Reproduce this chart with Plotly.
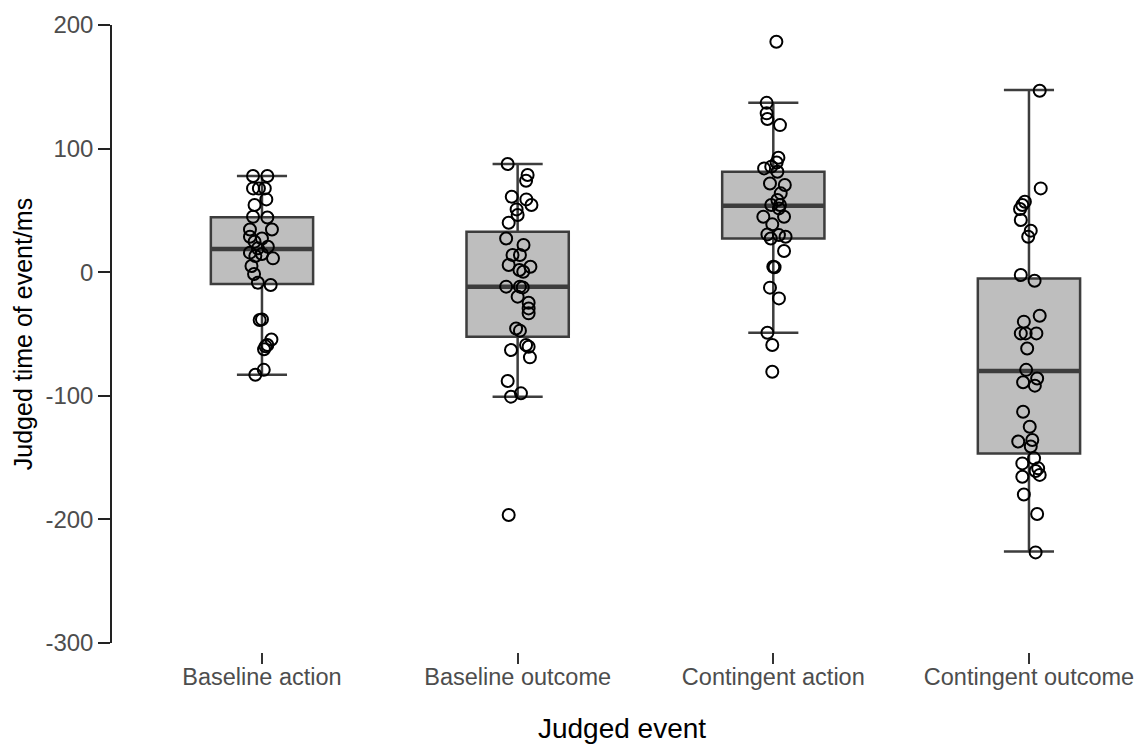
import plotly.graph_objects as go

categories = ["Baseline action", "Baseline outcome", "Contingent action", "Contingent outcome"]
y_ticks = [-300, -200, -100, 0, 100, 200]
y_tick_labels = ["-300", "-200", "-100", "0", "100", "200"]

# box statistics
q1 = [-9.6, -52.2, 27.3, -146.6]
median = [18.8, -11.7, 53.8, -80.0]
q3 = [44.4, 32.8, 81.3, -5.0]
lower = [-83.0, -100.7, -49.0, -226.0]
upper = [77.8, 87.5, 137.0, 147.4]

# individual observations (ms) and their horizontal jitter (category units)
ba_vals = [77.8, 77.8, 67.8, 67.8, 67.8, 58.9, 54.4, 44.9, 44.3, 34.6, 34.6, 28.7, 27.3, 24.7, 20.6, 19.3,
           15.8, 14.7, 11.2, 13.1, 5.0, -1.5, -8.5, -10.4, -38.7, -38.2, -54.4, -58.9, -62.4, -60.0, -83.0, -79.0]
ba_jit = [-0.035, 0.021, -0.035, -0.012, 0.011, 0.017, -0.029, -0.035, 0.021, 0.039, -0.047, -0.047, 0.0, -0.029, 0.023, -0.016,
          -0.047, 0.0, 0.043, -0.026, -0.041, -0.031, -0.016, 0.034, -0.009, 0.0, 0.037, 0.021, 0.008, 0.014, -0.026, 0.007]

bo_vals = [87.5, 78.6, 74.0, 61.1, 58.9, 54.4, 50.8, 46.3, 40.0, 27.3, 22.0, 13.9, 13.9, 5.8, 1.8, 4.4, 0.4,
           -11.7, -11.7, -12.3, -19.8, -24.7, -29.3, -33.3, -45.5, -47.3, -58.9, -60.3, -63.0, -68.9, -88.0,
           -100.7, -98.0, -196.4]
bo_jit = [-0.039, 0.039, 0.033, -0.023, 0.034, 0.054, -0.004, 0.0, -0.035, -0.045, 0.023, -0.020, 0.009, -0.035, 0.007, 0.050, 0.022,
          -0.045, 0.009, 0.020, 0.0, 0.043, 0.043, 0.043, -0.006, 0.009, 0.033, 0.043, -0.026, 0.048, -0.039,
          -0.026, 0.013, -0.035]

ca_vals = [186.5, 137.0, 128.5, 124.0, 119.0, 92.6, 88.8, 85.4, 84.0, 81.3, 71.8, 70.5, 63.8, 58.4, 54.4, 54.4,
           51.6, 44.9, 44.9, 38.7, 30.6, 27.3, 30.0, 28.7, 17.2, 4.4, 4.0, -12.5, -21.2, -49.0, -58.9, -80.5]
ca_jit = [0.012, -0.026, -0.026, -0.023, 0.026, 0.020, 0.013, -0.008, -0.036, 0.016, -0.013, 0.045, 0.029, 0.016, -0.008, 0.026,
          0.022, 0.042, -0.039, -0.004, -0.023, -0.010, 0.022, 0.048, 0.042, 0.0, 0.005, -0.013, 0.022, -0.023, -0.004, -0.004]

co_vals = [146.8, 67.8, 57.0, 54.4, 51.1, 42.2, 33.6, 28.7, -2.3, -6.9, -35.2, -40.0, -49.5, -49.5, -49.5, -61.7,
           -79.0, -89.0, -86.0, -91.8, -112.9, -125.0, -137.0, -135.8, -141.0, -150.6, -154.7, -158.7, -160.8,
           -164.0, -165.5, -179.8, -195.6, -226.7]
co_jit = [0.042, 0.046, -0.016, -0.026, -0.035, -0.032, 0.007, -0.003, -0.032, 0.022, 0.042, -0.020, -0.032, -0.013, 0.029, -0.007,
          -0.011, -0.023, 0.032, 0.023, -0.023, 0.003, -0.042, 0.013, 0.007, 0.020, -0.026, 0.036, 0.026,
          0.042, -0.026, -0.020, 0.032, 0.026]

points = [(ba_vals, ba_jit), (bo_vals, bo_jit), (ca_vals, ca_jit), (co_vals, co_jit)]

BOX_LINE = "#3d3d3d"
FILL = "#bebebe"

fig = go.Figure()
for i in range(len(categories)):
    fig.add_trace(go.Box(
        x=[i], q1=[q1[i]], median=[median[i]], q3=[q3[i]],
        lowerfence=[lower[i]], upperfence=[upper[i]],
        width=0.4, whiskerwidth=0.49, fillcolor=FILL,
        line=dict(color=BOX_LINE, width=2.5), boxpoints=False,
        showlegend=False, hoverinfo="skip"))
    # thicker median bar
    fig.add_trace(go.Box(
        x=[i], q1=[median[i]], median=[median[i]], q3=[median[i]],
        lowerfence=[median[i]], upperfence=[median[i]],
        width=0.4, whiskerwidth=0, fillcolor=BOX_LINE,
        line=dict(color=BOX_LINE, width=4.5), boxpoints=False,
        showlegend=False, hoverinfo="skip"))

for i, (vals, jit) in enumerate(points):
    fig.add_trace(go.Scatter(
        x=[i + j for j in jit], y=vals, mode="markers",
        marker=dict(symbol="circle-open", size=12, color="black", line=dict(color="black", width=2)),
        showlegend=False, hoverinfo="skip"))

fig.update_layout(
    width=1142, height=736,
    margin=dict(l=104, r=18, t=17, b=92),
    paper_bgcolor="white", plot_bgcolor="white",
    font=dict(family="Liberation Sans, Arial, sans-serif", color="black"),
    boxmode="overlay",
    xaxis=dict(
        range=[-0.5866, 3.403], tickmode="array", tickvals=[0, 1, 2, 3], ticktext=categories,
        showgrid=False, zeroline=False, showline=False, automargin=False,
        ticks="outside", ticklen=11, tickwidth=1.5, tickcolor="#333333",
        tickfont=dict(size=23.5, color="#4d4d4d"), ticklabelstandoff=-7,
        anchor="free", position=0,
        title=dict(text="Judged event", font=dict(size=28, color="black"), standoff=30),
    ),
    yaxis=dict(
        range=[-300, 200], domain=[0.01435, 1], tickmode="array", tickvals=y_ticks, ticktext=y_tick_labels,
        showgrid=False, zeroline=False, showline=True, linecolor="#222222", linewidth=1.5,
        automargin=False,
        ticks="outside", ticklen=12, tickwidth=1.5, tickcolor="#222222",
        tickfont=dict(size=24, color="#4d4d4d"),
        title=dict(text="Judged time of event/ms", font=dict(size=25, color="black"), standoff=6),
    ),
)

fig.write_html("out.html")
